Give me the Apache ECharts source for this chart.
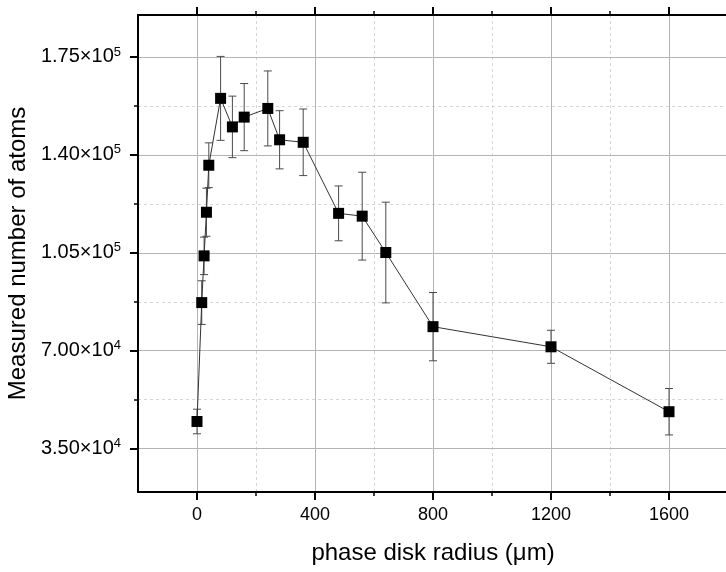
<!DOCTYPE html>
<html>
<head>
<meta charset="utf-8">
<script src="https://cdn.jsdelivr.net/npm/echarts@6/dist/echarts.min.js"></script>
<style>html,body{margin:0;padding:0;background:#fff;}#c{width:726px;height:572px;}</style>
</head>
<body>
<div id="c"></div>
<script>
// ---- data ----
const radius = [0, 16, 24, 32, 40, 80, 120, 160, 240, 280, 360, 480, 560, 640, 800, 1200, 1600];
const atoms  = [44700, 87200, 103900, 119500, 136300, 160200, 150000, 153500, 156600, 145400, 144500, 119100, 118100, 105100, 78600, 71400, 48200];
const errs   = [4400, 7800, 6700, 8600, 8000, 15000, 11000, 12000, 13400, 10400, 11900, 9800, 15700, 18000, 12200, 5900, 8300];
const xMajorTicks = [0, 400, 800, 1200, 1600];
const xMinorTicks = [200, 600, 1000, 1400];
const yMajorTicks = [35000, 70000, 105000, 140000, 175000];
const yMinorTicks = [52500, 87500, 122500, 157500];
const xTitle = 'phase disk radius (\u03bcm)';
const yTitle = 'Measured number of atoms';

const FONT = 'Liberation Sans, Arial, sans-serif';
const X_MIN = -200, X_MAX = 1800, Y_MIN = 19500, Y_MAX = 190000;

function sciLabel(v) {
  const e = Math.floor(Math.log10(v) + 1e-9);
  const m = (v / Math.pow(10, e)).toFixed(2);
  return '{m|' + m + '\u00d710}{e|' + e + '}';
}

const gridRect = { left: 138, top: 15, width: 590, height: 477, outerBoundsMode: 'none', containLabel: false };
const axisLineStyle = { show: true, onZero: false, lineStyle: { color: '#000', width: 2 } };
const hiddenLine = { show: true, onZero: false, lineStyle: { color: 'rgba(0,0,0,0)', width: 0 } };

function majorX(pos, showLabel) {
  return {
    type: 'value', gridIndex: 0, position: pos, min: X_MIN, max: X_MAX, z: 3,
    axisLine: axisLineStyle,
    axisTick: { show: true, inside: false, customValues: xMajorTicks, length: 8, lineStyle: { color: '#000', width: 2 } },
    axisLabel: { show: showLabel, customValues: xMajorTicks, fontSize: 18, fontFamily: FONT, color: '#000', margin: 14,
                 formatter: function (v) { return String(v); } },
    splitLine: { show: pos === 'bottom', lineStyle: { color: '#b4b4b4', width: 1 } },
    name: pos === 'bottom' ? xTitle : '', nameLocation: 'middle', nameGap: 49,
    nameTextStyle: { fontSize: 24, fontFamily: FONT, color: '#000' }
  };
}
function minorX(pos) {
  return {
    type: 'value', gridIndex: 1, position: pos, min: X_MIN, max: X_MAX, z: 1,
    axisLine: hiddenLine,
    axisTick: { show: true, inside: false, customValues: xMinorTicks, length: 4, lineStyle: { color: '#000', width: 1.5 } },
    axisLabel: { show: false },
    splitLine: { show: pos === 'bottom', lineStyle: { color: '#d6d6d6', width: 1, type: [3, 3] } }
  };
}
function majorY(pos, showLabel) {
  return {
    type: 'value', gridIndex: 0, position: pos, min: Y_MIN, max: Y_MAX, z: 3,
    axisLine: axisLineStyle,
    axisTick: { show: true, inside: false, customValues: yMajorTicks, length: 8, lineStyle: { color: '#000', width: 2 } },
    axisLabel: {
      show: showLabel, customValues: yMajorTicks, margin: 17, formatter: sciLabel,
      rich: {
        m: { fontSize: 20, fontFamily: FONT, color: '#000' },
        e: { fontSize: 13, fontFamily: FONT, color: '#000', padding: [0, 0, 10, 0] }
      }
    },
    splitLine: { show: pos === 'left', lineStyle: { color: '#b4b4b4', width: 1 } },
    name: pos === 'left' ? yTitle : '', nameLocation: 'middle', nameGap: 99,
    nameTextStyle: { fontSize: 24, fontFamily: FONT, color: '#000' }
  };
}
function minorY(pos) {
  return {
    type: 'value', gridIndex: 1, position: pos, min: Y_MIN, max: Y_MAX, z: 1,
    axisLine: hiddenLine,
    axisTick: { show: true, inside: false, customValues: yMinorTicks, length: 4, lineStyle: { color: '#000', width: 1.5 } },
    axisLabel: { show: false },
    splitLine: { show: pos === 'left', lineStyle: { color: '#d6d6d6', width: 1, type: [3, 3] } }
  };
}

const errData = radius.map((r, i) => [r, atoms[i] - errs[i], atoms[i] + errs[i]]);
const ptData = radius.map((r, i) => [r, atoms[i]]);

const chart = echarts.init(document.getElementById('c'), null, { renderer: 'canvas' });
chart.setOption({
  animation: false,
  backgroundColor: '#fff',
  grid: [Object.assign({}, gridRect), Object.assign({}, gridRect)],
  xAxis: [majorX('bottom', true), majorX('top', false), minorX('bottom'), minorX('top')],
  yAxis: [majorY('left', true), majorY('right', false), minorY('left'), minorY('right')],
  series: [
    {
      type: 'custom', xAxisIndex: 0, yAxisIndex: 0, z: 4,
      data: errData,
      encode: { x: 0, y: [1, 2] },
      renderItem: function (params, api) {
        const x = api.value(0);
        const top = api.coord([x, api.value(2)]);
        const bot = api.coord([x, api.value(1)]);
        const w = 4;
        const st = { stroke: '#4a4a4a', lineWidth: 1 };
        return {
          type: 'group',
          children: [
            { type: 'line', shape: { x1: top[0], y1: top[1], x2: bot[0], y2: bot[1] }, style: st },
            { type: 'line', shape: { x1: top[0] - w, y1: top[1], x2: top[0] + w, y2: top[1] }, style: st },
            { type: 'line', shape: { x1: bot[0] - w, y1: bot[1], x2: bot[0] + w, y2: bot[1] }, style: st }
          ]
        };
      }
    },
    {
      type: 'line', xAxisIndex: 0, yAxisIndex: 0, z: 5,
      data: ptData,
      symbol: 'rect', symbolSize: 11,
      itemStyle: { color: '#000' },
      lineStyle: { color: '#333', width: 1 }
    }
  ]
});
</script>
</body>
</html>
